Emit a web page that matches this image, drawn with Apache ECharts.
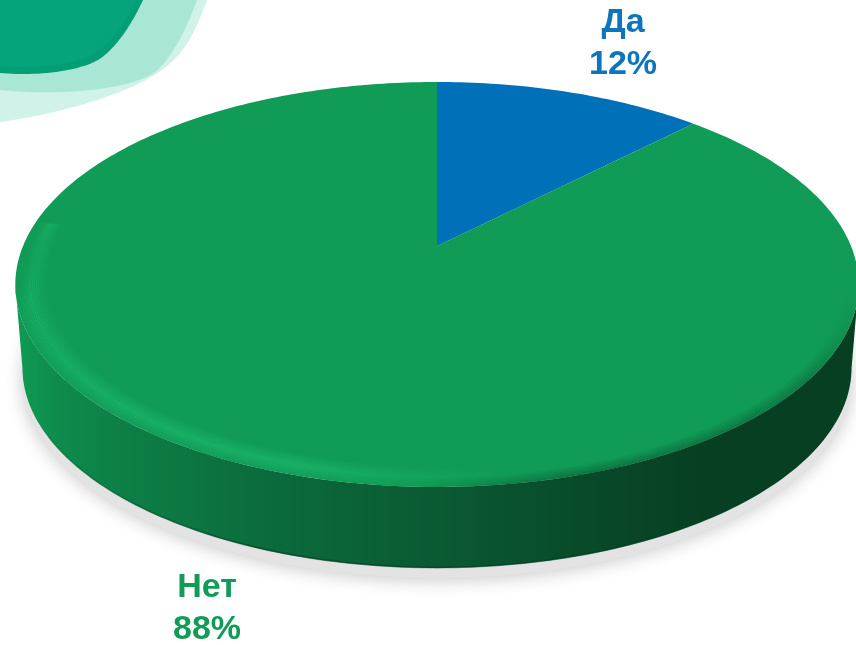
<!DOCTYPE html>
<html><head><meta charset="utf-8">
<style>html,body{margin:0;padding:0;background:#fff}#c{width:856px;height:645px}</style>
<script src="https://cdn.jsdelivr.net/npm/echarts@6/dist/echarts.min.js"></script>
</head><body><div id="c"></div>
<script>
const categories = ['Да', 'Нет'];
const values = [12.4, 87.6];
const sliceColors = ['#0071B9', '#109B56'];
const labelColors = ['#0E75BD', '#109B56'];
const labelCenters = [[623, 44], [207, 609]];

const total = values.reduce((a, b) => a + b, 0);
const P = 0.19;
const TOP = {cx: 437, cy: 246, A: 414, B: 195.2};
const BOT = {cx: 437, cy: 329.7, A: 407, B: 193};
function pt(g, deg, f) {
  const t = deg * Math.PI / 180, u = Math.sin(t) * (f === undefined ? 1 : f), v = Math.cos(t) * (f === undefined ? 1 : f);
  const w = 1 + P * v;
  return [g.cx + g.A * u / w, g.cy - g.B * v / w];
}
function arc(g, a, b, f) {
  const out = [], n = Math.max(2, Math.ceil(Math.abs(b - a)));
  for (let i = 0; i <= n; i++) out.push(pt(g, a + (b - a) * i / n, f));
  return out;
}
function grad(x, y, x2, y2, stops) {
  return {type: 'linear', x, y, x2, y2, global: true,
    colorStops: stops.map(s => ({offset: s[0], color: s[1]}))};
}
function blob(start, curves) {
  const out = [[0, 0], start];
  let p = start;
  for (const c of curves) {
    for (let i = 1; i <= 24; i++) {
      const t = i / 24, s = 1 - t;
      out.push([0, 1].map(k => s*s*s*p[k] + 3*s*s*t*c[0][k] + 3*s*t*t*c[1][k] + t*t*t*c[2][k]));
    }
    p = c[2];
  }
  return out;
}
const wallFill = grad(14, 0, 858, 0, [
  [0, '#0F9B55'], [0.05, '#0E8C4C'], [0.12, '#0D8047'], [0.3, '#0B6B3C'],
  [0.5, '#0A5A32'], [0.68, '#084A29'], [0.82, '#073F23'], [1, '#073F23']]);

function rimBands() {
  const els = [];
  for (let d = 1; d <= 15; d++) {
    const f = 1 - d / 205;
    const a = Math.max(0, 1 - Math.abs(d - 7) / 8) * 0.52;
    const c = o => 'rgba(30,195,115,' + (a * o).toFixed(3) + ')';
    els.push({type: 'polyline', shape: {points: arc(TOP, 150, 277, f)}, style: {
      fill: null, lineWidth: 1.6,
      stroke: grad(14, 250, 700, 456, [[0, c(0)], [0.02, c(0)], [0.04, c(1)], [0.47, c(1)], [0.61, c(0.45)], [0.75, c(0)], [1, c(0)]])}});
  }
  for (let d = 0; d <= 6; d++) {
    const f = 1 - d / 205;
    const a = (1 - d / 7) * 0.38;
    const c = o => 'rgba(4,50,28,' + (a * o).toFixed(3) + ')';
    els.push({type: 'polyline', shape: {points: arc(TOP, 60, 215, f)}, style: {
      fill: null, lineWidth: 1.5,
      stroke: grad(300, 500, 850, 130, [[0, c(0)], [0.15, c(0)], [0.35, c(1)], [0.75, c(1)], [0.87, c(0)], [1, c(0)]])}});
  }
  return els;
}

function renderItem(params, api) {
  const i = params.dataIndex;
  const v = api.value(0);
  const before = values.slice(0, i).reduce((a, b) => a + b, 0);
  const a0 = before / total * 360, a1 = a0 + v / total * 360;
  const children = [];
  if (i === 0) {
    const bottom = arc(BOT, 0, 360);
    children.push({type: 'polygon', shape: {points: bottom.map(p => [p[0], p[1] + 10])}, style: {
      fill: '#E3E3E3', shadowBlur: 18, shadowColor: 'rgba(0,0,0,0.22)', shadowOffsetY: 2}});
    const wall = arc(TOP, 101, 259).concat(arc(BOT, 259, 101));
    children.push({type: 'polygon', shape: {points: wall}, style: {fill: wallFill}});
    children.push({type: 'polyline', shape: {points: arc(BOT, 120, 240, 0.998)}, style: {
      fill: null, lineWidth: 2, stroke: grad(14, 0, 858, 0, [[0, 'rgba(5,60,32,0)'], [0.3, 'rgba(5,60,32,0.55)'], [0.7, 'rgba(5,60,32,0.55)'], [1, 'rgba(5,60,32,0)']])}});
  }
  const top = [[TOP.cx, TOP.cy]].concat(arc(TOP, a0, a1));
  children.push({type: 'polygon', shape: {points: top}, style: {fill: sliceColors[i]}});
  if (i === values.length - 1) children.push(...rimBands());
  children.push({type: 'text', x: labelCenters[i][0], y: labelCenters[i][1], style: {
    text: categories[i] + '\n' + Math.round(v) + '%', fill: labelColors[i],
    font: 'bold 34px "Liberation Sans", Arial, sans-serif', lineHeight: 42,
    align: 'center', verticalAlign: 'middle'}});
  return {type: 'group', children};
}

const chart = echarts.init(document.getElementById('c'), null, {renderer: 'canvas'});
chart.setOption({
  animation: false,
  backgroundColor: '#fff',
  graphic: [
    {type: 'polygon', z: 1, silent: true, shape: {points: blob([207, 0], [[[196, 30], [185, 52], [168, 65]], [[140, 90], [70, 112], [0, 122]]])}, style: {fill: '#D0F2E8'}},
    {type: 'polygon', z: 2, silent: true, shape: {points: blob([197, 0], [[[186, 30], [172, 58], [155, 72]], [[130, 90], [60, 96], [0, 90]]])}, style: {fill: '#A9E6D6'}},
    {type: 'polygon', z: 3, silent: true, shape: {points: blob([143, 0], [[[130, 28], [114, 50], [98, 60]], [[75, 73], [30, 76], [0, 73]]])}, style: {fill: '#049E74'}},
    {type: 'polygon', z: 4, silent: true, shape: {points: blob([136, 0], [[[124, 26], [108, 46], [92, 55]], [[72, 66], [30, 68], [0, 66]]])}, style: {fill: '#05A47B'}}
  ],
  series: [{
    type: 'custom', coordinateSystem: 'none', silent: true,
    renderItem, data: values.map(v => [v]), z: 5
  }]
});
</script></body></html>
